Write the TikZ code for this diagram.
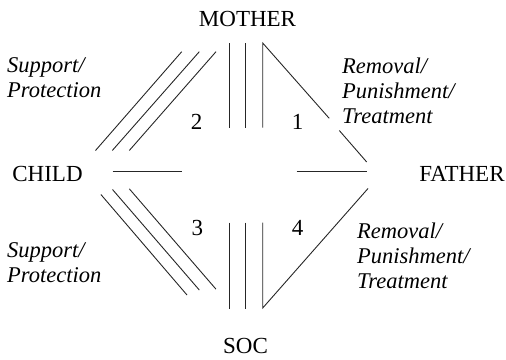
\documentclass[tikz,border=0pt]{standalone}
\usepackage{fontspec}
\setmainfont{Liberation Serif}
\begin{document}
\begin{tikzpicture}[x=1pt,y=-1pt,
  lbl/.style={inner sep=0pt,font=\fontsize{23}{25}\selectfont},
  ital/.style={inner sep=0pt,align=left,anchor=base west,font=\fontsize{22.5}{25}\selectfont\itshape},
  num/.style={inner sep=0pt,anchor=base,font=\fontsize{23}{25}\selectfont},
  ln/.style={line width=0.9pt,black!85}]
\useasboundingbox (0,0) rectangle (506,359);
% main nodes
\node[lbl,anchor=base] (mother) at (247.5,26.7) {MOTHER};
\node[lbl,anchor=base] (child) at (47.5,181.7) {CHILD};
\node[lbl,anchor=base] (father) at (462,181.7) {FATHER};
\node[lbl,anchor=base] (soc) at (245.5,353.3) {SOC};
% labels (base anchor = baseline of last line)
\node[ital] (sp1) at (7,97.7) {Support/\\Protection};
\node[ital] (sp2) at (7,282.7) {Support/\\Protection};
\node[ital] (rp1) at (342,123.3) {Removal/\\Punishment/\\Treatment};
\node[ital] (rp2) at (357,288.3) {Removal/\\Punishment/\\Treatment};
\node[num] (n2) at (196.7,129.3) {2};
\node[num] (n1) at (297.7,129.3) {1};
\node[num] (n3) at (197.3,235) {3};
\node[num] (n4) at (297.7,235) {4};
% coordinates
\coordinate (mc1a) at (181.7,51.7); \coordinate (mc1b) at (95.5,150.5);
\coordinate (mc2a) at (199.3,51.7); \coordinate (mc2b) at (112.3,150.5);
\coordinate (mc3a) at (216,51.7);   \coordinate (mc3b) at (129.3,150.5);
\coordinate (mv1a) at (229,43);   \coordinate (mv1b) at (229,127.5);
\coordinate (mv2a) at (245.8,43); \coordinate (mv2b) at (245.8,127.5);
\coordinate (mv3a) at (262.7,43); \coordinate (mv3b) at (262.7,127.5);
\coordinate (mf1) at (329.2,118.3); \coordinate (mf2) at (339.3,130.5);
\coordinate (mfe) at (366.7,162);
\coordinate (ch1) at (112.7,171.7); \coordinate (ch2) at (181.7,171.7);
\coordinate (fh1) at (296.7,171.7); \coordinate (fh2) at (366.7,171.7);
\coordinate (cs1a) at (100.9,194.5); \coordinate (cs1b) at (187,295);
\coordinate (cs2a) at (112.5,189.5); \coordinate (cs2b) at (199.3,290);
\coordinate (cs3a) at (129.3,188.8); \coordinate (cs3b) at (216,289.2);
\coordinate (sv1a) at (229,222.5);   \coordinate (sv1b) at (229,309.3);
\coordinate (sv2a) at (245.8,222.5); \coordinate (sv2b) at (245.8,309.3);
\coordinate (sv3a) at (262.7,222.5); \coordinate (sv3b) at (262.7,308);
\coordinate (sfe) at (368,188.5);
% connectors
\draw[ln] (mc1a) -- (mc1b);
\draw[ln] (mc2a) -- (mc2b);
\draw[ln] (mc3a) -- (mc3b);
\draw[ln] (mv1a) -- (mv1b);
\draw[ln] (mv2a) -- (mv2b);
\draw[ln] (mv3b) -- (mv3a) -- (mf1);
\draw[ln] (mf2) -- (mfe);
\draw[ln] (ch1) -- (ch2);
\draw[ln] (fh1) -- (fh2);
\draw[ln] (cs1a) -- (cs1b);
\draw[ln] (cs2a) -- (cs2b);
\draw[ln] (cs3a) -- (cs3b);
\draw[ln] (sv1a) -- (sv1b);
\draw[ln] (sv2a) -- (sv2b);
\draw[ln] (sv3a) -- (sv3b) -- (sfe);
\end{tikzpicture}
\end{document}
